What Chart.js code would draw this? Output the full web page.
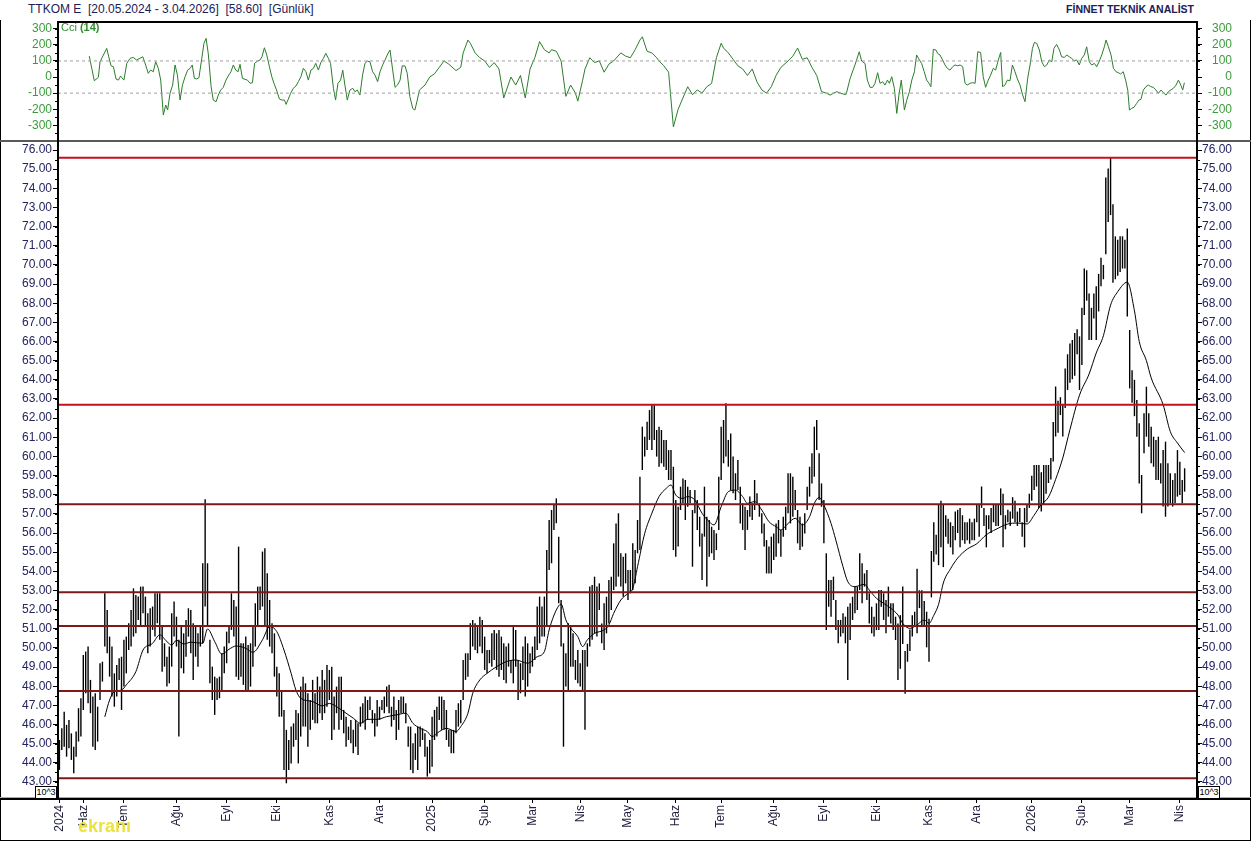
<!DOCTYPE html>
<html lang="tr">
<head>
<meta charset="UTF-8">
<title>TTKOM E</title>
<script src="https://cdn.jsdelivr.net/npm/chart.js@4.4.1/dist/chart.umd.min.js"></script>
<style>
  html, body { margin: 0; padding: 0; background: #fff; }
  body { width: 1251px; height: 841px; position: relative; overflow: hidden; font-family: Arial, "Liberation Sans", sans-serif; }
  canvas { position: absolute; left: 0; }
  #cci { top: 0; }
  #main { top: 140px; }
  #frame { position: absolute; left: 0; top: 20px; width: 1251px; height: 821px; box-sizing: border-box;
           border: 1px solid #000; border-top: none; }
  .ttl { position: absolute; top: 2px; font-size: 12px; color: #1c2057; white-space: pre; }
  #ttlL { left: 28px; }
  #ttlR { right: 57px; font-weight: bold; font-size: 10.5px; top: 3px; }
  #cciLbl { position: absolute; left: 61px; top: 21px; font-size: 11px; color: #2f8f2f; }
  .exp { position: absolute; top: 786px; width: 20px; height: 11px; border: 1px solid #000; background: #fff;
         font-size: 9px; line-height: 11px; text-align: center; color: #000; }
  #wm { position: absolute; left: 78px; top: 816px; font-size: 18px; font-weight: bold; color: #ece23e; }
</style>
</head>
<body>
<div id="ttlL" class="ttl">TTKOM E  [20.05.2024 - 3.04.2026]  [58.60]  [Günlük]</div>
<div id="ttlR" class="ttl">FİNNET TEKNİK ANALİST</div>
<div id="frame"></div>
<canvas id="cci" width="1251" height="140"></canvas>
<canvas id="main" width="1251" height="700"></canvas>
<div id="cciLbl">Cci <b>(14)</b></div>
<div class="exp" style="left:35px">10^3</div>
<div class="exp" style="left:1198px">10^3</div>
<div id="wm">ekranı</div>

<script>
// daily high / low, one entry per trading day, 20.05.2024 .. 3.04.2026
const highs = [
  45.19,45.80,46.67,45.98,46.24,45.54,44.84,45.63,46.85,47.37,49.63,49.81,50.07,48.33,47.46,47.63,46.93,49.20,49.28,52.85,
  51.98,50.59,50.07,48.67,49.11,49.46,49.54,50.42,50.59,51.29,51.98,53.11,52.76,52.68,53.20,53.20,52.68,51.81,52.07,52.16,
  52.85,52.85,52.85,51.11,50.24,49.54,50.07,51.81,52.42,51.63,50.42,51.11,50.76,51.46,52.07,51.98,51.29,51.11,50.76,51.11,
  54.42,57.76,54.42,50.42,49.02,48.50,48.41,48.50,49.72,50.07,50.85,51.11,52.85,52.50,52.16,55.29,50.24,50.24,50.59,50.15,
  50.24,51.11,52.33,53.20,53.20,55.03,55.20,53.90,52.50,51.29,50.76,49.02,48.67,47.80,46.76,45.72,45.19,45.89,46.06,46.76,
  46.59,47.98,48.50,48.15,47.63,47.28,48.33,47.63,48.50,47.98,48.85,48.33,49.11,48.85,49.02,47.46,47.98,48.50,48.50,46.76,
  46.41,45.89,46.24,45.72,46.24,46.06,46.93,47.11,47.46,47.28,47.46,46.76,46.59,47.28,46.93,47.28,47.46,47.98,48.07,46.93,
  47.46,46.76,47.28,47.46,47.46,47.11,45.89,45.89,45.02,45.54,45.89,45.89,45.80,45.54,44.84,45.19,46.41,46.76,46.93,47.46,
  47.46,47.28,46.76,45.72,45.72,45.72,46.76,47.11,47.28,49.37,49.72,49.72,51.29,51.46,51.29,51.11,51.63,51.46,50.59,49.89,
  49.89,50.76,50.94,50.76,50.94,50.59,50.24,50.07,50.24,49.37,51.11,50.94,49.37,49.20,50.07,50.59,50.24,49.72,50.07,50.59,
  52.16,52.68,52.16,52.68,55.11,56.68,57.20,57.46,57.81,55.81,52.50,50.24,49.72,51.29,51.11,50.76,49.37,49.89,49.20,49.89,
  49.89,50.24,53.20,53.29,53.72,53.20,53.37,51.28,52.33,52.67,53.55,53.72,55.46,56.50,57.03,54.94,54.76,54.94,54.07,54.07,
  55.46,55.11,56.68,58.94,61.55,61.03,61.81,62.42,62.68,62.68,61.38,61.55,61.38,60.86,60.86,60.33,60.33,59.46,57.72,57.37,
  58.42,58.85,58.77,58.42,58.24,57.20,58.24,57.72,56.85,55.98,58.42,56.85,56.68,56.33,56.16,55.98,58.94,61.55,61.90,62.77,
  60.86,61.20,59.99,59.12,59.81,58.42,57.55,57.37,57.20,57.90,57.55,58.77,58.07,57.55,57.03,56.50,55.63,55.29,55.81,55.98,
  56.50,56.68,56.16,56.85,57.37,59.12,59.12,58.94,58.24,57.20,56.85,56.50,57.03,58.42,59.46,60.16,61.55,61.90,60.16,58.59,
  57.72,54.94,53.55,53.55,53.72,52.50,51.46,51.46,51.81,51.63,52.15,52.33,52.67,53.20,53.20,54.94,54.42,53.89,54.07,52.85,
  52.15,51.63,52.33,53.02,53.02,52.85,52.50,53.20,52.33,52.33,51.63,51.28,51.71,53.20,49.84,50.21,50.96,51.71,51.89,54.13,
  53.01,53.01,52.45,51.89,51.52,55.06,56.56,55.91,57.49,57.68,57.49,56.93,56.75,56.56,56.37,57.12,57.21,57.31,56.93,56.56,
  56.56,56.75,56.56,56.75,57.49,57.49,58.43,57.31,56.93,56.93,57.31,57.49,57.49,57.49,58.33,58.05,56.93,57.21,57.12,57.87,
  57.68,57.12,57.31,56.56,57.31,57.49,58.05,58.99,59.55,59.55,59.55,59.17,59.55,59.55,59.55,59.92,61.79,63.65,62.91,63.09,
  62.72,64.59,65.33,65.89,66.08,66.45,66.64,66.27,67.76,69.81,69.72,68.51,67.76,68.51,68.88,69.53,70.37,70.00,74.57,75.04,
  75.60,73.17,71.49,71.31,71.49,71.49,71.31,71.90,66.60,64.50,64.00,62.95,61.73,59.03,62.25,63.64,62.25,61.55,61.03,60.86,
  61.03,59.64,60.33,60.77,59.64,59.12,58.77,59.12,60.33,59.72,58.77,59.38
];
const lows = [
  43.63,44.67,44.84,44.32,44.76,44.15,43.45,44.32,45.11,45.37,46.76,47.63,47.11,46.59,44.84,44.67,45.11,47.28,48.24,50.07,
  49.72,48.50,47.46,46.93,47.46,48.33,46.76,47.98,48.67,49.89,50.07,50.59,50.76,51.46,51.11,51.81,51.11,49.72,50.07,50.94,
  50.59,51.29,50.42,48.76,49.02,47.98,48.15,49.02,50.59,50.07,45.37,48.94,48.67,49.54,50.59,49.72,48.33,49.54,49.02,50.07,
  50.24,52.16,51.11,48.15,47.28,46.50,47.28,47.37,47.80,48.67,49.20,50.24,50.94,50.59,48.50,48.33,48.50,48.07,47.80,47.80,
  47.98,49.02,50.07,51.11,51.98,52.16,51.11,50.42,50.07,49.72,48.50,47.46,46.41,46.41,43.63,42.93,43.63,43.97,44.84,45.19,
  43.97,45.37,45.89,45.89,44.84,45.72,46.24,46.06,46.06,46.59,46.24,46.59,46.93,47.28,45.19,45.72,46.59,45.72,46.24,45.54,
  44.84,45.19,45.02,44.50,44.84,44.41,45.89,46.06,45.72,46.24,46.76,46.06,45.37,45.89,46.24,46.76,46.59,46.93,46.59,45.89,
  46.24,45.19,45.72,46.59,46.59,46.06,44.84,43.63,43.45,44.15,43.63,44.84,45.19,44.32,43.28,43.45,43.80,45.19,45.37,46.24,
  45.72,45.72,45.19,44.84,44.50,44.50,45.54,45.89,46.06,47.28,48.33,48.50,49.37,50.07,49.89,49.72,50.07,49.72,48.85,48.67,
  49.20,49.02,49.37,48.85,48.50,48.85,48.33,48.15,49.02,48.67,48.15,49.02,47.28,47.63,48.33,47.46,47.98,48.67,49.02,49.37,
  49.89,50.24,50.59,50.59,51.11,54.07,54.42,56.16,56.51,52.33,50.07,44.84,47.98,47.80,49.02,49.02,48.33,48.15,47.98,47.80,
  45.72,49.02,50.07,50.42,50.76,50.59,51.98,50.24,49.89,50.76,51.28,51.98,53.02,53.20,53.72,53.20,52.67,53.37,52.50,52.85,
  53.02,53.37,54.94,55.11,59.29,59.99,60.33,60.86,60.33,60.86,59.99,59.46,59.64,59.46,59.29,58.77,58.77,55.11,54.76,55.29,
  57.20,57.55,56.68,57.37,57.55,54.24,57.03,56.16,55.29,53.55,55.81,53.20,54.76,54.94,54.59,55.11,56.16,58.77,59.64,59.99,
  59.46,58.24,58.07,57.72,58.24,56.50,56.16,55.11,56.16,56.85,56.68,57.20,57.55,56.85,55.98,55.29,53.89,53.89,53.89,54.59,
  54.76,55.46,54.76,55.81,56.16,57.03,56.50,56.85,57.20,55.46,55.11,55.29,55.98,57.20,57.90,58.59,58.94,60.33,57.72,57.37,
  55.46,50.93,52.15,51.63,52.50,50.93,50.24,50.59,50.76,50.24,48.32,50.41,51.46,51.81,51.98,53.02,52.33,53.20,52.50,51.28,
  50.76,50.59,50.93,50.93,52.15,51.46,50.76,51.63,51.28,50.93,50.41,48.32,48.91,50.21,47.60,49.28,49.84,50.59,51.15,50.77,
  52.08,51.15,51.15,50.03,49.28,52.64,54.50,54.88,54.32,55.25,54.22,55.81,55.44,55.25,54.88,55.62,56.00,55.25,55.62,55.44,
  55.62,55.44,55.62,55.62,56.56,55.81,57.31,56.37,55.25,56.19,56.00,56.56,56.37,56.37,56.93,55.25,56.19,56.56,56.37,56.75,
  56.56,56.37,56.56,55.81,55.25,56.56,57.31,57.68,58.24,58.43,57.31,57.12,57.49,58.05,58.61,58.80,59.73,61.04,61.23,62.16,
  61.04,62.53,63.47,63.84,64.03,64.21,65.33,63.47,64.77,67.39,68.13,66.08,66.08,67.20,66.08,67.57,68.88,69.25,70.56,72.24,
  72.60,69.07,69.25,69.44,69.63,69.81,69.81,67.30,63.55,62.80,62.10,61.03,58.59,57.03,60.16,61.03,60.51,59.64,59.46,58.77,
  58.77,58.59,57.38,56.85,57.38,57.55,57.38,57.55,57.90,57.99,57.55,58.16
];

// moving average (bar index, value)
const maX = [19,21,23,26,28,32,35,39,42,45,47,49,52,55,60,62,65,68,71,74,78,81,85,88,91,94,97,99,101,106,
  110,113,117,120,123,126,129,133,137,141,145,148,151,154,156,159,162,166,168,171,173,176,179,183,187,191,196,200,203,205,
  208,210,212,214,217,219,221,224,228,230,232,235,238,240,242,245,248,251,254,256,258,261,263,266,269,272,274,277,280,283,
  286,288,291,294,297,300,302,305,308,311,314,316,318,320,323,325,328,330,333,337,339,342,345,348,351,353,356,359,362,364,
  366,368,370,373,376,380,384,388,392,397,401,405,408,411,414,417,420,423,427,431,434,437,440,443,447,450,452,455,457,462,
  465,468,471];
const maY = [46.4,47.28,47.72,47.8,48.07,48.76,49.89,50.24,50.68,50.33,50.15,50.4,50.2,50.3,50.24,50.99,50.33,49.68,49.93,50.1,
  49.98,49.77,50.42,51.11,50.85,49.89,48.67,47.8,47.37,47.2,46.97,47.1,46.85,46.59,46.33,46.06,46.27,46.27,46.41,46.5,
  46.59,46.06,45.8,45.63,45.37,45.63,45.8,45.63,45.89,46.59,47.63,48.33,48.67,49.02,49.28,49.37,49.2,49.54,49.81,50.94,
  51.98,52.29,51.46,51.03,50.59,50.07,50.42,50.76,50.94,51.2,51.8,52.5,52.85,53.1,54.24,55.98,57.03,57.9,58.33,58.51,
  57.98,57.81,57.9,57.72,57.03,56.59,56.42,57.37,58.16,58.24,57.9,57.55,57.64,57.2,56.59,56.33,56.16,56.5,56.77,56.42,
  56.85,57.55,57.86,57.46,56.5,55.63,54.24,53.46,53.2,53.32,53.02,52.59,52.33,52.07,51.72,51.28,51.02,51.2,51.46,51.28,
  51.7,52.27,53.39,54.13,54.69,55.16,55.44,55.91,56.19,56.47,56.52,56.47,56.93,57.49,57.87,58.8,59.92,61.4,63.2,64.3,
  65.4,66.3,67.9,68.6,69.1,67.6,66.0,65.0,64.1,62.7,61.3,60.7,60.2];

// CCI(14) (bar index, value)
const cciX = [12.5,14.6,16.3,17.0,19.8,21.6,22.6,23.7,24.7,25.6,27.0,28.2,29.6,30.9,32.3,33.7,34.9,36.1,37.2,38.2,
  39.3,40.3,41.4,42.4,43.5,44.5,45.3,46.3,47.4,48.4,49.4,50.5,51.5,52.6,53.7,54.7,55.6,56.5,57.5,58.4,
  59.6,60.5,61.4,62.3,63.5,64.4,65.6,66.5,67.5,68.6,69.7,70.9,71.8,72.8,73.8,74.8,75.6,76.6,77.7,78.7,
  79.8,80.8,81.7,82.9,84.0,84.8,85.8,86.8,87.9,88.9,89.8,90.9,92.1,93.2,94.2,94.9,95.8,96.8,97.9,99.0,
  100.0,101.1,102.1,103.2,104.2,105.3,106.3,107.3,108.4,109.4,110.5,111.5,112.6,113.5,114.7,115.6,116.6,117.7,118.6,119.5,
  120.5,121.6,122.8,123.7,124.7,125.8,126.9,127.9,128.9,130.0,131.1,132.1,133.2,134.2,135.3,136.3,137.4,138.4,139.5,140.5,
  141.5,142.6,143.5,144.7,145.6,146.7,147.9,148.8,149.8,150.7,
  153,155,157,159,161,163,166,168,169,171,172,174,176,178,180,182,184,186,189,191,
  193,195,197,199,201,203,205,206,208,210,212,214,216,217,219,220,222,224,226,228,
  230,232,235,237,239,241,243,244,246,248,250,251,253,255,257,259,261,263,265,267,
  269,271,273,275,277,278,280,282,284,286,288,290,292,294,296,298,300,302,305,307,
  309,311,313,315,317,319,321,
  322.6,324.0,325.4,328.1,329.3,331.0,333.0,334.8,335.8,337.2,338.2,339.3,340.4,341.4,342.5,343.5,344.6,345.6,346.6,347.4,
  348.4,349.5,350.5,351.4,352.4,353.7,354.7,355.8,356.8,357.9,358.8,360.0,360.9,362.0,363.0,364.0,364.8,365.8,366.9,367.6,
  368.6,369.7,370.7,371.7,372.8,373.9,374.9,376.0,377.0,378.1,379.1,380.0,381.2,382.3,383.3,384.4,385.6,386.7,387.7,388.8,
  389.8,390.9,391.9,393.0,394.0,394.8,395.8,396.8,397.9,398.9,400.0,401.0,402.1,403.2,404.2,405.3,406.3,407.3,408.1,409.1,
  410.2,411.2,412.3,413.3,414.4,415.4,416.3,417.4,418.6,419.5,420.7,421.6,422.7,423.7,424.8,425.8,426.9,427.9,429.0,430.0,
  431.1,432.1,433.2,434.2,435.2,436.3,437.4,438.1,439.1,440.2,441.2,442.3,443.3,444.2,445.3,446.3,447.2,447.9,448.8,449.8,
  450.9,451.9,452.7,453.7,454.8,455.8,456.9,457.9,459.0,460.0,461.1,462.1,463.2,464.2,465.2,466.3,467.4,468.4,469.4,470.2,
  470.9];
const cciY = [130,-23,-2,95,178,70,64,-12,-19,6,-19,85,116,122,106,116,126,75,23,43,
  33,95,54,-19,-236,-174,-205,-101,-50,75,12,-143,-50,2,43,54,75,-8,-12,-4,
  116,209,240,147,-60,-143,-153,-112,-81,-64,-19,12,33,75,43,33,79,-8,-14,-19,
  -39,-35,85,99,106,126,182,137,64,2,-39,-81,-137,-143,-143,-170,-137,-101,-70,-56,
  -29,2,54,33,-19,43,54,85,43,89,116,147,116,85,-70,-143,-39,-19,43,-50,
  -143,-81,-70,-91,-81,-112,12,85,99,95,33,12,-29,33,75,106,143,168,43,-64,
  -50,-19,70,68,23,-122,-195,-205,-143,-81,
  -50,0,20,60,100,80,40,60,150,230,210,150,120,100,60,90,50,-130,0,-50,
  10,-130,50,120,220,170,150,170,160,100,-120,-50,-100,-150,-20,50,120,90,100,30,
  80,100,150,130,120,170,230,250,160,150,120,100,70,30,-310,-200,-130,-60,-110,-80,
  -100,-60,-40,120,210,180,150,110,70,50,10,50,-30,-80,-100,-60,10,60,100,130,
  180,110,120,60,10,-90,-100,
  -112,-101,-91,-106,-108,-8,75,157,99,85,-19,-64,-64,-39,27,-39,-29,-50,-19,-39,
  2,-70,-226,-112,-19,-205,-143,-91,-19,33,137,106,85,33,-19,-39,-60,172,168,147,
  137,106,75,54,43,64,75,70,75,64,-39,-50,-39,-35,-39,157,153,2,-64,-19,
  12,54,43,106,153,-60,-50,-19,-23,75,33,-12,-50,-112,-153,-8,75,178,215,209,
  168,95,64,75,106,95,178,203,168,126,122,137,126,116,101,106,75,116,137,188,
  95,75,85,64,95,137,188,230,188,137,54,33,27,19,33,-19,-81,-205,-195,-188,
  -164,-143,-139,-81,-60,-50,-60,-64,-81,-101,-81,-97,-112,-91,-81,-70,-50,-19,-50,-81,
  -35];

// horizontal support / resistance levels
const levels = [75.6, 62.7, 57.5, 52.9, 51.15, 47.75, 43.2];
const levelColors = ['#c3121c', '#c3121c', '#7c1a1a', '#7c1a1a', '#7c1a1a', '#7c1a1a', '#7c1a1a'];

// axis tick values
const cciTickVals = [-300, -200, -100, 0, 100, 200, 300];
const priceTickVals = [43, 44, 45, 46, 47, 48, 49, 50, 51, 52, 53, 54, 55, 56, 57, 58, 59, 60,
  61, 62, 63, 64, 65, 66, 67, 68, 69, 70, 71, 72, 73, 74, 75, 76];

// month ticks on the bottom axis (bar index of first trading day)
const monthIdx = [0, 10, 27, 49, 70, 91, 113, 134, 156, 178, 198, 218, 238, 258, 277, 299, 320, 342, 364, 384, 407, 428, 448, 469];
const monthLbl = ['2024','Haz','Tem','Ağu','Eyl','Eki','Kas','Ara','2025','Şub','Mar','Nis','May','Haz','Tem','Ağu','Eyl','Eki','Kas','Ara','2026','Şub','Mar','Nis'];

const X_MIN = -0.59, X_MAX = 476.18;
const FONT = 'Arial, "Liberation Sans", sans-serif';
Chart.defaults.font.family = FONT;

// small ticks between the labelled ones
const minorTicks = {
  id: 'minorTicks',
  afterDraw(chart, args, opts) {
    const ctx = chart.ctx;
    ctx.save();
    ctx.fillStyle = '#000';
    ['y', 'y2'].forEach(id => {
      const s = chart.scales[id];
      const first = Math.ceil(s.min / opts.step) * opts.step;
      for (let v = first; v <= s.max; v += opts.step) {
        const y = Math.round(s.getPixelForValue(v));
        if (s.position === 'left') ctx.fillRect(s.right - 3, y, 3, 1);
        else ctx.fillRect(s.left, y, 3, 1);
      }
    });
    ctx.restore();
  }
};

const cciFrame = {
  id: 'cciFrame',
  afterDraw(chart) {
    const { ctx, chartArea: a } = chart;
    ctx.save();
    ctx.fillStyle = '#000';
    ctx.fillRect(a.left - 1, a.top - 1, a.right - a.left + 2, 2);
    ctx.fillRect(a.left - 1, a.top - 1, 2, chart.height - a.top + 1);
    ctx.fillRect(a.right - 1, a.top - 1, 2, chart.height - a.top + 1);
    ctx.restore();
  }
};

const mainFrame = {
  id: 'mainFrame',
  afterDraw(chart) {
    const { ctx, chartArea: a, width } = chart;
    ctx.save();
    ctx.fillStyle = '#5a5a5a';
    ctx.fillRect(0, 0, width, 2);
    ctx.fillStyle = '#a8a8a8';
    ctx.fillRect(0, a.bottom - 2, width, 1);
    ctx.fillStyle = '#000';
    ctx.fillRect(0, a.bottom - 1, width, 2);
    ctx.fillRect(a.left - 1, 0, 2, a.bottom);
    ctx.fillRect(a.right - 1, 0, 2, a.bottom);
    ctx.restore();
  }
};

function hLine(v, color, width, dash) {
  return {
    type: 'line',
    data: [{ x: X_MIN, y: v }, { x: X_MAX, y: v }],
    borderColor: color, borderWidth: width, borderDash: dash || [],
    pointRadius: 0, order: 0
  };
}

// fixed axis size, no extra room reserved for end labels
function fitV(w) {
  return s => { s.width = w; s.paddingTop = 0; s.paddingBottom = 0; };
}
function useTicks(vals) {
  return s => { s.ticks = vals.map(v => ({ value: v })); };
}

// ---- CCI panel ----
const cciTicks = {
  color: '#3b9b3b', font: { size: 12 }, padding: 1, autoSkip: false,
  callback: v => String(v)
};
new Chart(document.getElementById('cci'), {
  type: 'line',
  data: {
    datasets: [
      hLine(100, '#a0a0a0', 1, [3, 3]),
      hLine(-100, '#a0a0a0', 1, [3, 3]),
      {
        data: cciX.map((x, k) => ({ x: x, y: cciY[k] })),
        borderColor: '#2b7d2b', borderWidth: 1, pointRadius: 0, tension: 0, order: 1
      }
    ]
  },
  options: {
    responsive: false, animation: false, events: [],
    layout: { padding: { top: 22, bottom: 1, left: 0, right: 19 } },
    plugins: { legend: { display: false }, tooltip: { enabled: false }, minorTicks: { step: 50 } },
    scales: {
      x: { type: 'linear', min: X_MIN, max: X_MAX, display: false },
      y: {
        position: 'left', min: -385, max: 342,
        afterFit: fitV(58),
        afterBuildTicks: useTicks(cciTickVals),
        ticks: cciTicks,
        grid: { drawOnChartArea: false, tickLength: 5, color: '#000' },
        border: { display: false }
      },
      y2: {
        position: 'right', min: -385, max: 342,
        afterFit: fitV(35),
        afterBuildTicks: useTicks(cciTickVals),
        ticks: Object.assign({}, cciTicks, { crossAlign: 'far', padding: 8 }),
        grid: { drawOnChartArea: false, tickLength: 5, color: '#000' },
        border: { display: false }
      }
    }
  },
  plugins: [minorTicks, cciFrame]
});

// ---- price panel ----
const priceTicks = {
  color: '#24245e', font: { size: 12 }, autoSkip: false,
  callback: v => v.toFixed(2)
};
new Chart(document.getElementById('main'), {
  type: 'bar',
  data: {
    datasets: [
      ...levels.map((v, k) => hLine(v, levelColors[k], 2)),
      {
        type: 'line',
        data: maX.map((x, k) => ({ x: x, y: maY[k] })),
        borderColor: '#000', borderWidth: 1, pointRadius: 0,
        cubicInterpolationMode: 'monotone', order: 1
      },
      {
        type: 'bar',
        data: highs.map((h, i) => ({ x: i, y: [lows[i], h] })),
        backgroundColor: '#000', barThickness: 1.4, inflateAmount: 0, grouped: false, order: 2
      }
    ]
  },
  options: {
    responsive: false, animation: false, events: [],
    layout: { padding: { top: 1, bottom: 0, left: 0, right: 0 } },
    plugins: { legend: { display: false }, tooltip: { enabled: false }, minorTicks: { step: 0.5 } },
    scales: {
      x: {
        type: 'linear', min: X_MIN, max: X_MAX, offset: false,
        afterFit: s => { s.height = 41; s.paddingLeft = 0; s.paddingRight = 0; },
        afterBuildTicks: useTicks(monthIdx),
        ticks: {
          autoSkip: false, minRotation: 90, maxRotation: 90, padding: 2,
          color: '#1e1e3c', font: { size: 12 },
          callback: (v, i) => monthLbl[i]
        },
        grid: { drawOnChartArea: false, offset: false, tickLength: 4, color: '#000' },
        border: { display: false }
      },
      y: {
        position: 'left', min: 42.11, max: 76.47,
        afterFit: fitV(58),
        afterBuildTicks: useTicks(priceTickVals),
        ticks: Object.assign({}, priceTicks, { padding: 1 }),
        grid: { drawOnChartArea: false, tickLength: 5, color: '#000' },
        border: { display: false }
      },
      y2: {
        position: 'right', min: 42.11, max: 76.47,
        afterFit: fitV(54),
        afterBuildTicks: useTicks(priceTickVals),
        ticks: Object.assign({}, priceTicks, { padding: 0 }),
        grid: { drawOnChartArea: false, tickLength: 5, color: '#000' },
        border: { display: false }
      }
    }
  },
  plugins: [minorTicks, mainFrame]
});
</script>
</body>
</html>
